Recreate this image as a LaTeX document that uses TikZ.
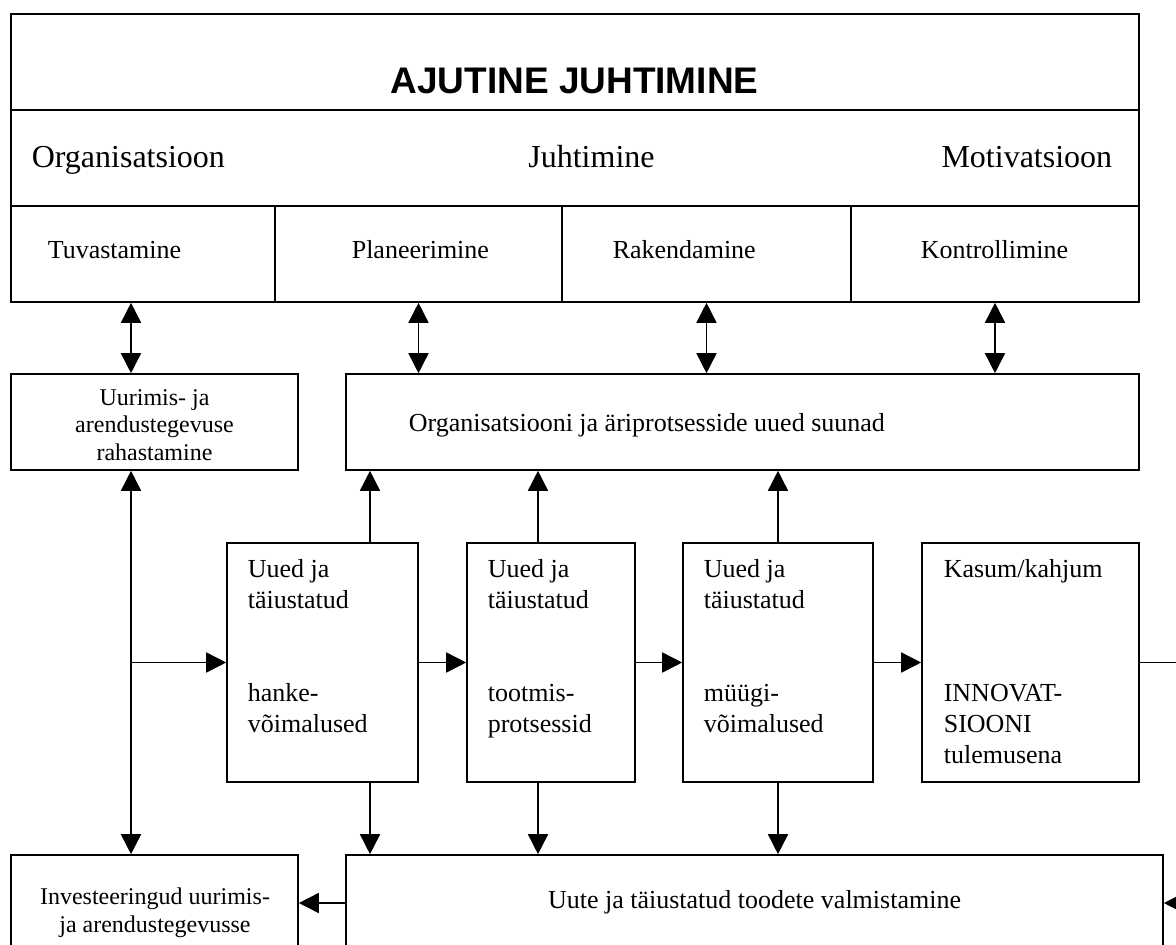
\documentclass[tikz,border=0pt]{standalone}
\usepackage{fontspec}
\setmainfont{Liberation Serif}
\newfontfamily\headfont{Liberation Sans}
\usetikzlibrary{arrows.meta}

\begin{document}
\begin{tikzpicture}[x=1pt, y=-1pt,
  line width=1.6pt,
  box/.style={draw, line width=1.6pt, inner sep=0pt},
  lbl/.style={inner sep=0pt, font=\fontsize{26}{31}\selectfont},
  big/.style={inner sep=0pt, font=\fontsize{32}{37}\selectfont},
  small/.style={inner sep=0pt, font=\fontsize{24}{27.5}\selectfont, align=center},
  tip/.style={-{Triangle[length=20pt,width=20pt]}},
  dbl/.style={{Triangle[length=20pt,width=20pt]}-{Triangle[length=20pt,width=20pt]}}]

% page frame; the lower boxes run past its bottom edge
\clip (0,0) rectangle (1176,945);

% column positions of the vertical connectors
\coordinate (xa) at (131,0);
\coordinate (xb) at (370,0);
\coordinate (xc) at (538,0);
\coordinate (edge) at (1182,0);

% head block
\node[box, minimum width=1128pt, minimum height=96pt] (title) at (575,62) {};
\node[box, minimum width=1128pt, minimum height=96pt] (row) at (575,158) {};
\node[box, minimum width=264pt, minimum height=96pt] (c1) at (143,254) {};
\node[box, minimum width=287pt, minimum height=96pt] (c2) at (418.5,254) {};
\node[box, minimum width=289pt, minimum height=96pt] (c3) at (706.5,254) {};
\node[box, minimum width=288pt, minimum height=96pt] (c4) at (995,254) {};

\node[inner sep=0pt, anchor=base, font=\headfont\bfseries\fontsize{37}{42}\selectfont] (titletext) at (574.5,93) {AJUTINE JUHTIMINE};
\node[big, anchor=base west] (org1) at (31,167) {Organisatsioon};
\node[big, anchor=base] (org2) at (591.5,167) {Juhtimine};
\node[big, anchor=base east] (org3) at (1113,167) {Motivatsioon};
\node[lbl, anchor=base west] (t1) at (47,258) {Tuvastamine};
\node[lbl, anchor=base west] (t2) at (351,258) {Planeerimine};
\node[lbl, anchor=base west] (t3) at (612,258) {Rakendamine};
\node[lbl, anchor=base west] (t4) at (920,258) {Kontrollimine};

% second tier (multi-line labels are placed by the baseline of their last line)
\node[box, minimum width=287pt, minimum height=96pt] (uur) at (154.5,422) {};
\node[small, anchor=base] (uurtext) at (154.5,460) {Uurimis- ja\\arendustegevuse\\rahastamine};
\node[box, minimum width=793pt, minimum height=96pt] (org) at (742.5,422) {};
\node[lbl, anchor=base west] (orgtext) at (408,431) {Organisatsiooni ja äriprotsesside uued suunad};

% process chain
\node[box, minimum width=191pt, minimum height=239pt] (b1) at (322.5,662.5) {};
\node[box, minimum width=168pt, minimum height=239pt] (b2) at (551,662.5) {};
\node[box, minimum width=190pt, minimum height=239pt] (b3) at (778,662.5) {};
\node[box, minimum width=217pt, minimum height=239pt] (b4) at (1030.5,662.5) {};
\node[lbl, anchor=base west, align=left] (b1text) at (247,732) {Uued ja\\täiustatud\\[62pt]hanke-\\võimalused};
\node[lbl, anchor=base west, align=left] (b2text) at (487,732) {Uued ja\\täiustatud\\[62pt]tootmis-\\protsessid};
\node[lbl, anchor=base west, align=left] (b3text) at (703,732) {Uued ja\\täiustatud\\[62pt]müügi-\\võimalused};
\node[lbl, anchor=base west, align=left] (b4text) at (943,763) {Kasum/kahjum\\[93pt]INNOVAT-\\SIOONI\\tulemusena};

% bottom tier
\node[box, minimum width=287pt, minimum height=96pt] (inv) at (154.5,903) {};
\node[small, anchor=base] (invtext) at (155,932) {Investeeringud uurimis-\\ja arendustegevusse};
\node[box, minimum width=817pt, minimum height=96pt] (prod) at (754.5,903) {};
\node[lbl, anchor=base] (prodtext) at (754.5,908) {Uute ja täiustatud toodete valmistamine};

% connectors between the head block and the second tier
\draw[dbl] (xa |- c1.south) -- (xa |- uur.north);
\draw[dbl] (c2.south) -- (c2.south |- org.north);
\draw[dbl] (c3.south) -- (c3.south |- org.north);
\draw[dbl] (c4.south) -- (c4.south |- org.north);

% funding line on the left
\draw[dbl] (xa |- uur.south) -- (xa |- inv.north);
\draw[tip] (xa |- b1.west) -- (b1.west);

% chain
\draw[tip] (b1.east) -- (b2.west);
\draw[tip] (b2.east) -- (b3.west);
\draw[tip] (b3.east) -- (b4.west);
\draw (b4.east) -- (b4.east -| edge);
\draw[tip] (prod.east -| edge) -- (prod.east);
\draw[tip] (prod.west) -- (inv.east);

% up to the new directions, down to production
\draw[tip] (xb |- b1.north) -- (xb |- org.south);
\draw[tip] (xc |- b2.north) -- (xc |- org.south);
\draw[tip] (b3.north) -- (b3.north |- org.south);
\draw[tip] (xb |- b1.south) -- (xb |- prod.north);
\draw[tip] (xc |- b2.south) -- (xc |- prod.north);
\draw[tip] (b3.south) -- (b3.south |- prod.north);
\end{tikzpicture}
\end{document}
